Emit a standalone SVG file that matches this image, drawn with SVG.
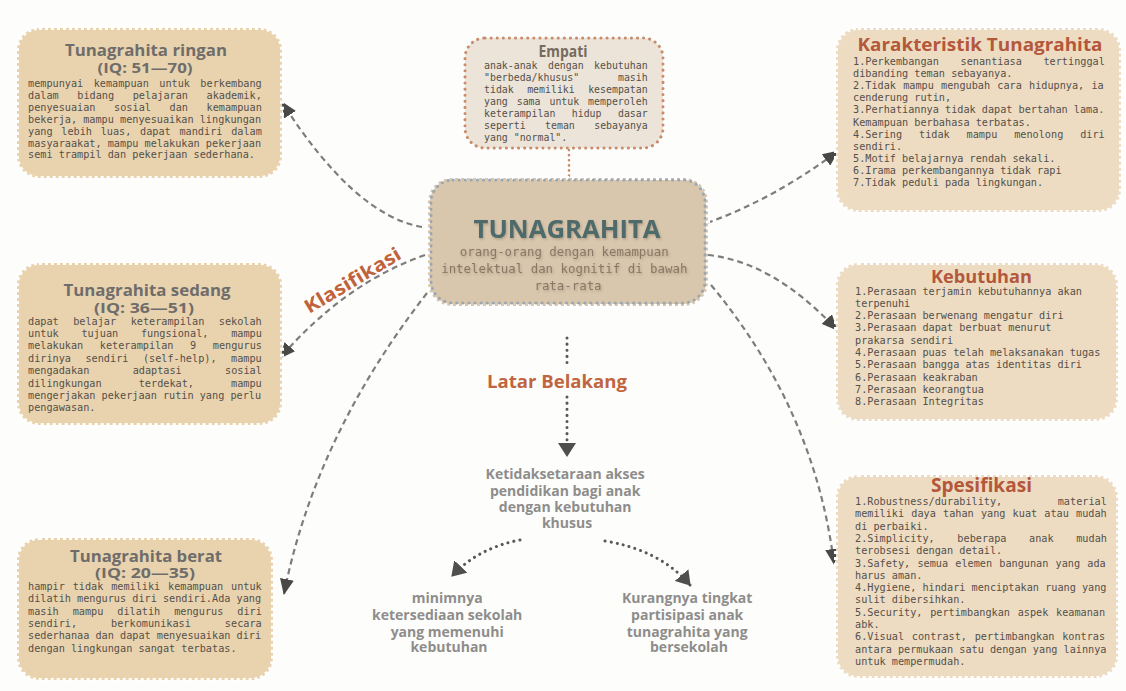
<svg xmlns="http://www.w3.org/2000/svg" width="1126" height="691" viewBox="0 0 1126 691">
<defs>
<style>
.tan{fill:#e9d3ae}
.tanr{fill:#eddcc2}
.perf{fill:none;stroke:#ffffff;stroke-width:4;stroke-dasharray:3 3}
.mono{font-family:"DejaVu Sans Mono","Liberation Mono",monospace;font-size:10.2px;fill:#55504a}
.ttl{font-family:"Open Sans","Liberation Sans",sans-serif;font-weight:700;fill:#6f6d6b;text-anchor:middle}
.rttl{font-family:"Open Sans","Liberation Sans",sans-serif;font-weight:700;fill:#b3583b;text-anchor:middle}
.gray{font-family:"Open Sans","Liberation Sans",sans-serif;font-weight:700;font-size:14px;fill:#8e8d8b;text-anchor:middle}
.dash{fill:none;stroke:#7d7d7b;stroke-width:2.2;stroke-dasharray:6 4}
.dot{fill:none;stroke:#58575a;stroke-width:3;stroke-linecap:round;stroke-dasharray:0.1 6}
</style>
<marker id="arr" markerUnits="userSpaceOnUse" viewBox="0 0 16 14" refX="15" refY="7" markerWidth="16" markerHeight="14" orient="auto">
<path d="M0,0 L16,7 L0,14 z" fill="#484846"/>
</marker>
<marker id="arr2" markerUnits="userSpaceOnUse" viewBox="0 0 14 18" refX="13" refY="9" markerWidth="14" markerHeight="18" orient="auto">
<path d="M0,0 L14,9 L0,18 z" fill="#4f4f4d"/>
</marker>
<filter id="sh" x="-10%" y="-30%" width="120%" height="160%">
<feDropShadow dx="1" dy="1.5" stdDeviation="1.2" flood-color="#6b5a45" flood-opacity="0.35"/>
</filter>
</defs>
<rect x="0" y="0" width="1126" height="691" fill="#fdfdfc"/>

<g id="connectors">
<path class="dash" d="M422,227 Q354,215 282,102" marker-end="url(#arr)"/>
<path class="dash" d="M425,255 Q345,283 280,358" marker-end="url(#arr)"/>
<path class="dash" d="M427,293 Q315,437 284,594" marker-end="url(#arr)"/>
<path class="dash" d="M707,223 Q774,199 838,151" marker-end="url(#arr)"/>
<path class="dash" d="M708,255 Q774,262 837,330" marker-end="url(#arr)"/>
<path class="dash" d="M711,285 Q815,410 834,564" marker-end="url(#arr)"/>
<path fill="none" stroke="#c98b6b" stroke-width="2.6" stroke-linecap="round" stroke-dasharray="0.1 5" d="M569,150 L569,178"/>
<path class="dot" d="M567,338 L567,364"/>
<path class="dot" d="M567,397 L567,456" marker-end="url(#arr2)"/>
<path class="dot" d="M520,540 Q478,548 452,576" marker-end="url(#arr2)"/>
<path class="dot" d="M605,541 Q660,550 690,585" marker-end="url(#arr2)"/>
</g>

<g id="empati">
<rect x="465" y="38" width="198" height="110" rx="20" fill="#ece4d8"/>
<rect x="465" y="38" width="198" height="110" rx="20" fill="none" stroke="#c98b6b" stroke-width="3" stroke-linecap="round" stroke-dasharray="0.1 6"/>
<text x="563" y="56.5" class="ttl" font-size="16" style="fill:#776a60" textLength="49" lengthAdjust="spacingAndGlyphs">Empati</text>
<text class="mono" style="font-size:9.9px">
<tspan x="484" y="69" style="word-spacing:4.5px">anak-anak dengan kebutuhan</tspan>
<tspan x="484" y="81" style="word-spacing:32.9px">&quot;berbeda/khusus&quot; masih</tspan>
<tspan x="484" y="93" style="word-spacing:7.5px">tidak memiliki kesempatan</tspan>
<tspan x="484" y="105" style="word-spacing:3px">yang sama untuk memperoleh</tspan>
<tspan x="484" y="117" style="word-spacing:10.5px">keterampilan hidup dasar</tspan>
<tspan x="484" y="129" style="word-spacing:13.5px">seperti teman sebayanya</tspan>
<tspan x="484" y="141">yang &quot;normal&quot;.</tspan>
</text>
</g>

<g id="ringan">
<rect class="tan" x="17" y="28" width="265" height="150" rx="22"/>
<rect class="perf" x="17" y="28" width="265" height="150" rx="22"/>
<text x="146" y="56" class="ttl" font-size="15.5" textLength="162" lengthAdjust="spacingAndGlyphs">Tunagrahita ringan</text>
<text x="145" y="72.5" class="ttl" font-size="15" textLength="95" lengthAdjust="spacingAndGlyphs">(IQ: 51—70)</text>
<text class="mono">
<tspan x="28" y="87" style="word-spacing:4.3px">mempunyai kemampuan untuk berkembang</tspan>
<tspan x="28" y="98.9" style="word-spacing:12.5px">dalam bidang pelajaran akademik,</tspan>
<tspan x="28" y="110.8" style="word-spacing:12.5px">penyesuaian sosial dan kemampuan</tspan>
<tspan x="28" y="122.7">bekerja, mampu menyesuaikan lingkungan</tspan>
<tspan x="28" y="134.6" style="word-spacing:2.6px">yang lebih luas, dapat mandiri dalam</tspan>
<tspan x="28" y="146.5">masyaraakat, mampu melakukan pekerjaan</tspan>
<tspan x="28" y="158.4">semi trampil dan pekerjaan sederhana.</tspan>
</text>
</g>

<g id="sedang">
<rect class="tan" x="17" y="263" width="265" height="162" rx="22"/>
<rect class="perf" x="17" y="263" width="265" height="162" rx="22"/>
<text x="147" y="296" class="ttl" font-size="15.5" textLength="167" lengthAdjust="spacingAndGlyphs">Tunagrahita sedang</text>
<text x="144" y="312.5" class="ttl" font-size="15" textLength="100" lengthAdjust="spacingAndGlyphs">(IQ: 36—51)</text>
<text class="mono">
<tspan x="28" y="324.5" style="word-spacing:8.4px">dapat belajar keterampilan sekolah</tspan>
<tspan x="28" y="336.9" style="word-spacing:16.6px">untuk tujuan fungsional, mampu</tspan>
<tspan x="28" y="349.3" style="word-spacing:10.5px">melakukan keterampilan 9 mengurus</tspan>
<tspan x="28" y="361.7" style="word-spacing:8.4px">dirinya sendiri (self-help), mampu</tspan>
<tspan x="28" y="374.1" style="word-spacing:37.2px">mengadakan adaptasi sosial</tspan>
<tspan x="28" y="386.5" style="word-spacing:31px">dilingkungan terdekat, mampu</tspan>
<tspan x="28" y="398.9">mengerjakan pekerjaan rutin yang perlu</tspan>
<tspan x="28" y="411.3">pengawasan.</tspan>
</text>
</g>

<g id="berat">
<rect class="tan" x="17" y="538" width="256" height="142" rx="22"/>
<rect class="perf" x="17" y="538" width="256" height="142" rx="22"/>
<text x="146" y="561.5" class="ttl" font-size="15.5" textLength="152" lengthAdjust="spacingAndGlyphs">Tunagrahita berat</text>
<text x="145" y="577.5" class="ttl" font-size="15" textLength="100" lengthAdjust="spacingAndGlyphs">(IQ: 20—35)</text>
<text class="mono">
<tspan x="28" y="590" style="word-spacing:1.7px">hampir tidak memiliki kemampuan untuk</tspan>
<tspan x="28" y="602.3">dilatih mengurus diri sendiri.Ada yang</tspan>
<tspan x="28" y="614.6" style="word-spacing:7.85px">masih mampu dilatih mengurus diri</tspan>
<tspan x="28" y="626.9" style="word-spacing:27.9px">sendiri, berkomunikasi secara</tspan>
<tspan x="28" y="639.2">sederhanaa dan dapat menyesuaikan diri</tspan>
<tspan x="28" y="651.5">dengan lingkungan sangat terbatas.</tspan>
</text>
</g>

<g id="karakteristik">
<rect class="tanr" x="836" y="28" width="285" height="184" rx="22"/>
<rect class="perf" x="836" y="28" width="285" height="184" rx="22"/>
<text x="980" y="51" class="rttl" font-size="18" textLength="245" lengthAdjust="spacingAndGlyphs">Karakteristik Tunagrahita</text>
<text class="mono">
<tspan x="853" y="65" style="word-spacing:15.5px">1.Perkembangan senantiasa tertinggal</tspan>
<tspan x="853" y="77.1">dibanding teman sebayanya.</tspan>
<tspan x="853" y="89.2" style="word-spacing:1.07px">2.Tidak mampu mengubah cara hidupnya, ia</tspan>
<tspan x="853" y="101.3">cenderung rutin,</tspan>
<tspan x="853" y="113.4">3.Perhatiannya tidak dapat bertahan lama.</tspan>
<tspan x="853" y="125.5">Kemampuan berbahasa terbatas.</tspan>
<tspan x="853" y="137.6" style="word-spacing:10.8px">4.Sering tidak mampu menolong diri</tspan>
<tspan x="853" y="149.7">sendiri.</tspan>
<tspan x="853" y="161.8">5.Motif belajarnya rendah sekali.</tspan>
<tspan x="853" y="173.9">6.Irama perkembangannya tidak rapi</tspan>
<tspan x="853" y="186">7.Tidak peduli pada lingkungan.</tspan>
</text>
</g>

<g id="kebutuhan">
<rect class="tanr" x="836" y="263" width="282" height="158" rx="22"/>
<rect class="perf" x="836" y="263" width="282" height="158" rx="22"/>
<text x="981.5" y="283" class="rttl" font-size="18" textLength="101" lengthAdjust="spacingAndGlyphs">Kebutuhan</text>
<text class="mono">
<tspan x="855" y="294.5">1.Perasaan terjamin kebutuhannya akan</tspan>
<tspan x="855" y="306.8">terpenuhi</tspan>
<tspan x="855" y="319.1">2.Perasaan berwenang mengatur diri</tspan>
<tspan x="855" y="331.4">3.Perasaan dapat berbuat menurut</tspan>
<tspan x="855" y="343.7">prakarsa sendiri</tspan>
<tspan x="855" y="356">4.Perasaan puas telah melaksanakan tugas</tspan>
<tspan x="855" y="368.3">5.Perasaan bangga atas identitas diri</tspan>
<tspan x="855" y="380.6">6.Perasaan keakraban</tspan>
<tspan x="855" y="392.9">7.Perasaan keorangtua</tspan>
<tspan x="855" y="405.2">8.Perasaan Integritas</tspan>
</text>
</g>

<g id="spesifikasi">
<rect class="tanr" x="836" y="475" width="282" height="203" rx="22"/>
<rect class="perf" x="836" y="475" width="282" height="203" rx="22"/>
<text x="981.5" y="492" class="rttl" font-size="19" textLength="101" lengthAdjust="spacingAndGlyphs">Spesifikasi</text>
<text class="mono">
<tspan x="855" y="505" style="word-spacing:49.4px">1.Robustness/durability, material</tspan>
<tspan x="855" y="517.3" style="word-spacing:1.07px">memiliki daya tahan yang kuat atau mudah</tspan>
<tspan x="855" y="529.6">di perbaiki.</tspan>
<tspan x="855" y="541.9" style="word-spacing:16.5px">2.Simplicity, beberapa anak mudah</tspan>
<tspan x="855" y="554.2">terobsesi dengan detail.</tspan>
<tspan x="855" y="566.5" style="word-spacing:1.07px">3.Safety, semua elemen bangunan yang ada</tspan>
<tspan x="855" y="578.8">harus aman.</tspan>
<tspan x="855" y="591.1">4.Hygiene, hindari menciptakan ruang yang</tspan>
<tspan x="855" y="603.4">sulit dibersihkan.</tspan>
<tspan x="855" y="615.7" style="word-spacing:1.6px">5.Security, pertimbangkan aspek keamanan</tspan>
<tspan x="855" y="628">abk.</tspan>
<tspan x="855" y="640.3" style="word-spacing:1.6px">6.Visual contrast, pertimbangkan kontras</tspan>
<tspan x="855" y="652.6">antara permukaan satu dengan yang lainnya</tspan>
<tspan x="855" y="664.9">untuk mempermudah.</tspan>
</text>
</g>

<g id="tunagrahita">
<rect x="428" y="178" width="280" height="128" rx="24" fill="#d8c6ad"/>
<rect x="428" y="178" width="280" height="128" rx="24" fill="none" stroke="#ffffff" stroke-width="4" stroke-dasharray="3 3"/>
<rect x="431" y="180" width="274" height="123" rx="22" fill="none" stroke="#9aa6b0" stroke-width="3" stroke-linecap="round" stroke-dasharray="0.1 6"/>
<text x="567" y="238" class="ttl" font-size="25" style="fill:#4f6b6b" filter="url(#sh)" textLength="187" lengthAdjust="spacingAndGlyphs">TUNAGRAHITA</text>
<text class="mono" text-anchor="middle" style="font-size:12.4px;fill:#8a7866" filter="url(#sh)">
<tspan x="568" y="256">orang-orang dengan kemampuan</tspan>
<tspan x="568" y="273">intelektual dan kognitif di bawah</tspan>
<tspan x="568" y="290">rata-rata</tspan>
</text>
</g>

<g id="klasifikasi">
<text x="356" y="286" class="rttl" font-size="19" style="fill:#c0633c" transform="rotate(-31 356 286)" textLength="109" lengthAdjust="spacingAndGlyphs">Klasifikasi</text>
</g>

<g id="latar">
<text x="557" y="388" class="rttl" font-size="17" style="fill:#c0653f" textLength="140" lengthAdjust="spacingAndGlyphs">Latar Belakang</text>
</g>

<g id="ketidaksetaraan">
<text class="gray">
<tspan x="567" y="479">Ketidaksetaraan akses</tspan>
<tspan x="567" y="495.5">pendidikan bagi anak</tspan>
<tspan x="567" y="511.5">dengan kebutuhan</tspan>
<tspan x="567" y="528">khusus</tspan>
</text>
</g>

<g id="minimnya">
<text class="gray">
<tspan x="449" y="603">minimnya</tspan>
<tspan x="449" y="620">ketersediaan sekolah</tspan>
<tspan x="449" y="636.5">yang memenuhi</tspan>
<tspan x="449" y="652">kebutuhan</tspan>
</text>
</g>

<g id="kurangnya">
<text class="gray">
<tspan x="689" y="603">Kurangnya tingkat</tspan>
<tspan x="689" y="620">partisipasi anak</tspan>
<tspan x="689" y="636.5">tunagrahita yang</tspan>
<tspan x="689" y="652">bersekolah</tspan>
</text>
</g>
</svg>
